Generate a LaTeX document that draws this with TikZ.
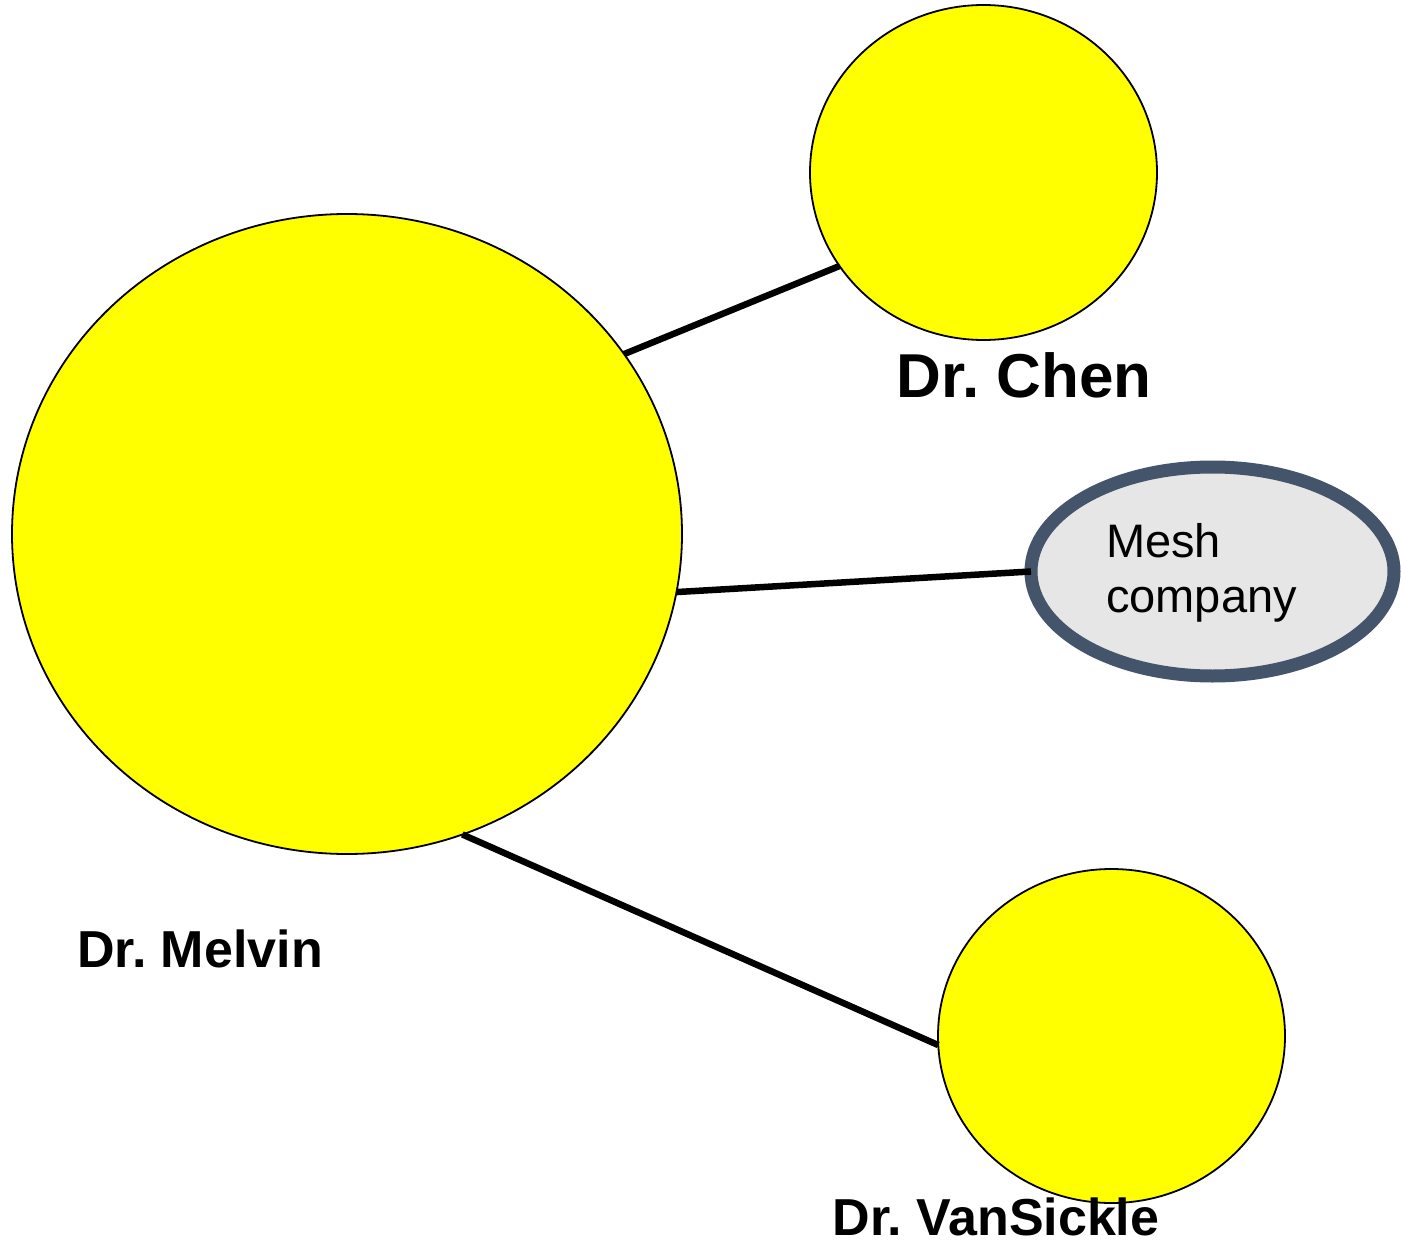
\documentclass[tikz,border=0pt]{standalone}
\usepackage{fontspec}
\setmainfont{Liberation Sans}
\usetikzlibrary{shapes.geometric}
\definecolor{circfill}{HTML}{FFFF00}
\definecolor{meshborder}{HTML}{44546A}
\definecolor{meshfill}{HTML}{E6E6E6}
\frenchspacing
\begin{document}
\begin{tikzpicture}[x=1pt,y=-1pt,
  person/.style={ellipse, draw=black, line width=1.8pt, fill=circfill, inner sep=0pt, outer sep=0pt},
  org/.style={ellipse, draw=meshborder, line width=13pt, fill=meshfill, inner sep=0pt, outer sep=0pt, minimum width=363pt, minimum height=209pt},
  link/.style={draw=black, line width=6.5pt},
  biglabel/.style={font=\bfseries\fontsize{62}{74}\selectfont, anchor=base, inner sep=0pt},
  personlabel/.style={font=\bfseries\fontsize{52}{62}\selectfont, anchor=base, inner sep=0pt}
]
\useasboundingbox (0,0) rectangle (1401,1244);
\fill[white] (0,0) rectangle (1401,1244);
% nodes
\node[person, minimum width=670pt, minimum height=640pt] (melvin) at (347,534) {};
\node[person, minimum width=347pt, minimum height=335pt] (chen) at (983.5,172.5) {};
\node[person, minimum width=347pt, minimum height=334pt] (vans) at (1111.5,1036) {};
\node[org] (mesh) at (1212.5,571.5) {};
% connectors
\draw[link] (melvin.33) -- (chen.213);
\draw[link] (melvin.-10.9) -- (mesh.west);
\draw[link] (melvin.-69.3) -- (vans.183);
% labels
\node[align=left, anchor=base west, inner sep=0pt, font=\fontsize{47}{55}\selectfont] (meshtext) at (1106,612) {Mesh\\company};
\node[biglabel] (chenlabel) at (1024,397) {Dr. Chen};
\node[personlabel] (melvinlabel) at (200,967) {Dr. Melvin};
\node[personlabel] (vanslabel) at (996,1235) {Dr. VanSickle};
\end{tikzpicture}
\end{document}
